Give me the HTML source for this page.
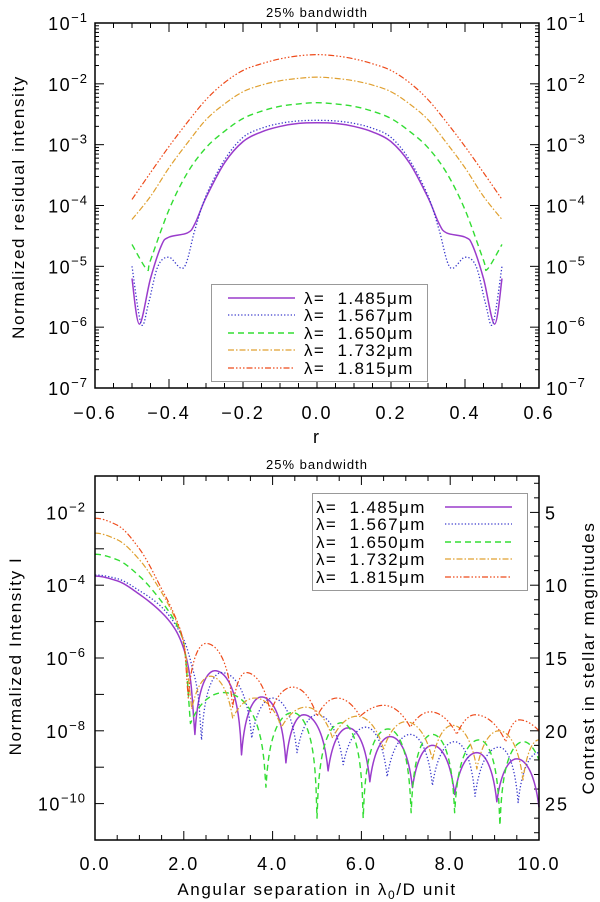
<!DOCTYPE html>
<html><head><meta charset="utf-8">
<style>
html,body{margin:0;padding:0;background:#fff;}
svg{display:block;font-family:"Liberation Sans",sans-serif;}
text{white-space:pre;}
</style></head>
<body>
<svg id="svg" width="600" height="902" viewBox="0 0 600 902" xmlns="http://www.w3.org/2000/svg">
<g id="top"></g>
<g id="bot"></g>
</svg>
<script>
// ---------- TOP CHART DATA (half profile, mirrored about r=0; values are log10 intensity) ----------
const topNames = ["λ=  1.485μm","λ=  1.567μm","λ=  1.650μm","λ=  1.732μm","λ=  1.815μm"];
const topR_purple = [0,0.05,0.1,0.15,0.2,0.25,0.3,0.33,0.35,0.4,0.42,0.45,0.48,0.5];
const topV_purple = [-2.64,-2.65,-2.7,-2.79,-2.95,-3.3,-3.87,-4.3,-4.45,-4.52,-4.65,-5.2,-5.95,-5.2];
const topR_blue = [0,0.05,0.1,0.15,0.2,0.25,0.3,0.33,0.36,0.4,0.43,0.455,0.475,0.5];
const topV_blue = [-2.6,-2.61,-2.65,-2.73,-2.88,-3.25,-3.84,-4.4,-5.02,-4.85,-5.0,-5.6,-5.95,-5.0];
const topR_green = [0,0.05,0.1,0.15,0.2,0.25,0.3,0.35,0.4,0.45,0.46,0.5];
const topV_green = [-2.31,-2.33,-2.37,-2.45,-2.57,-2.78,-3.05,-3.46,-4.07,-4.9,-5.05,-4.64];
const topR_orange = [0,0.05,0.1,0.15,0.2,0.25,0.3,0.35,0.4,0.45,0.5];
const topV_orange = [-1.89,-1.91,-1.95,-2.02,-2.13,-2.33,-2.59,-2.97,-3.38,-3.85,-4.23];
const topR_red = [0,0.05,0.1,0.15,0.2,0.25,0.3,0.35,0.4,0.45,0.5];
const topV_red = [-1.52,-1.54,-1.59,-1.67,-1.78,-1.98,-2.26,-2.63,-3.03,-3.46,-3.9];
const topXTicks = ["−0.6","−0.4","−0.2","0.0","0.2","0.4","0.6"];
const topYTicks = ["−1","−2","−3","−4","−5","−6","−7"];

// ---------- BOTTOM CHART DATA (log10 intensity) ----------
const botMainX_purple = [0,0.5,1.0,1.5,1.8,2.0,2.15,2.25];
const botMainV_purple = [-3.75,-3.88,-4.25,-4.75,-5.2,-5.75,-6.6,-8.1];
const botMainX_blue = [0,0.5,1.0,1.5,2.0,2.2,2.32,2.4];
const botMainV_blue = [-3.72,-3.82,-4.15,-4.6,-5.5,-6.3,-7.0,-8.25];
const botMainX_green = [0,0.5,1.0,1.5,1.8,2.0,2.15];
const botMainV_green = [-3.15,-3.3,-3.75,-4.45,-5.0,-5.6,-7.8];
const botMainX_orange = [0,0.5,1.0,1.5,1.8,2.0,2.18];
const botMainV_orange = [-2.57,-2.75,-3.3,-4.2,-4.9,-5.6,-7.4];
const botMainX_red = [0,0.5,1.0,1.5,1.8,2.0,2.1];
const botMainV_red = [-2.16,-2.35,-3.0,-4.1,-4.85,-5.6,-7.1];

const botLobeX_purple = [2.25,2.7,3.3,3.75,4.3,4.7,5.25,5.7,6.19,6.65,7.15,7.6,8.1,8.6,9.05,9.5,10.0];
const botLobeV_purple = [-8.1,-6.35,-8.66,-7.07,-8.88,-7.56,-9.1,-7.92,-9.4,-8.16,-9.56,-8.4,-9.75,-8.6,-9.95,-8.77,-10.1];
const botLobeX_blue = [2.4,2.85,3.53,4.0,4.55,5.0,5.59,6.1,6.58,7.1,7.6,8.1,8.56,9.1,9.53,10.0];
const botLobeV_blue = [-8.25,-6.4,-8.2,-7.1,-8.6,-7.56,-8.93,-7.9,-9.26,-8.1,-9.5,-8.3,-9.8,-8.45,-9.97,-8.6];
const botLobeX_green = [2.15,2.9,3.85,4.45,5.0,5.55,6.04,6.6,7.12,7.6,8.1,8.65,9.12,9.65,10.0];
const botLobeV_green = [-7.8,-6.95,-9.55,-7.5,-10.4,-7.78,-10.4,-7.95,-10.25,-8.1,-10.25,-8.25,-10.6,-8.3,-8.8];
const botLobeX_orange = [2.18,2.6,3.1,3.6,4.2,4.75,5.35,5.9,6.5,7.0,7.6,8.05,8.6,9.1,9.64,10.0];
const botLobeV_orange = [-7.4,-6.5,-7.65,-7.1,-7.9,-7.35,-8.2,-7.6,-8.5,-7.75,-8.8,-7.85,-9.05,-8.0,-9.35,-8.25];
const botLobeX_red = [2.1,2.5,3.1,3.4,3.95,4.45,5.0,5.45,5.97,6.5,7.1,7.55,8.15,8.56,9.25,9.55,10.0];
const botLobeV_red = [-7.1,-5.6,-7.35,-6.4,-7.5,-6.8,-7.6,-7.1,-7.6,-7.3,-7.9,-7.48,-8.1,-7.56,-8.3,-7.7,-8.0];
const botXTicks = ["0.0","2.0","4.0","6.0","8.0","10.0"];
const botYTicks = ["−2","−4","−6","−8","−10"];
const botMagTicks = ["5","10","15","20","25"];

// ---------- rendering ----------
const NS="http://www.w3.org/2000/svg";
const styles=[
 {c:"#9a3ccc",w:1.5,d:""},
 {c:"#3b3bcc",w:1.3,d:"1.3,2"},
 {c:"#33dd33",w:1.4,d:"6,4"},
 {c:"#e0a030",w:1.2,d:"6,2,1.5,2"},
 {c:"#ee4a1a",w:1.2,d:"6,2,1.5,2,1.5,2,1.5,2"}
];
function mk(parent,tag,attrs,text){
  const e=document.createElementNS(NS,tag);
  for(const k in attrs) e.setAttribute(k,attrs[k]);
  if(text!==undefined) e.textContent=text;
  parent.appendChild(e); return e;
}
function catmull(pts){
  let d="M"+pts[0][0].toFixed(2)+","+pts[0][1].toFixed(2);
  for(let i=0;i<pts.length-1;i++){
    const p0=pts[Math.max(0,i-1)],p1=pts[i],p2=pts[i+1],p3=pts[Math.min(pts.length-1,i+2)];
    const c1=[p1[0]+(p2[0]-p0[0])/6,p1[1]+(p2[1]-p0[1])/6];
    const c2=[p2[0]-(p3[0]-p1[0])/6,p2[1]-(p3[1]-p1[1])/6];
    d+="C"+c1[0].toFixed(2)+","+c1[1].toFixed(2)+" "+c2[0].toFixed(2)+","+c2[1].toFixed(2)+" "+p2[0].toFixed(2)+","+p2[1].toFixed(2);
  }
  return d;
}
function monotone(xs,ys,sx,sy){
  const n=xs.length, dl=[], m=[];
  for(let i=0;i<n-1;i++) dl.push((ys[i+1]-ys[i])/(xs[i+1]-xs[i]));
  m[0]=0;
  for(let i=1;i<n-1;i++) m[i]=(dl[i-1]*dl[i]<=0)?0:(2/(1/dl[i-1]+1/dl[i]));
  m[n-1]=dl[n-2];
  let d="M"+sx(xs[0]).toFixed(2)+","+sy(ys[0]).toFixed(2);
  for(let i=0;i<n-1;i++){
    const h=xs[i+1]-xs[i];
    for(let j=1;j<=12;j++){
      const t=j/12,t2=t*t,t3=t2*t;
      const v=(2*t3-3*t2+1)*ys[i]+(t3-2*t2+t)*h*m[i]+(-2*t3+3*t2)*ys[i+1]+(t3-t2)*h*m[i+1];
      d+="L"+sx(xs[i]+h*t).toFixed(2)+","+sy(v).toFixed(2);
    }
  }
  return d;
}
function logLabel(g,x,y,exp,anchor){
  const t=mk(g,"text",{x:x,y:y,"font-size":"18","letter-spacing":"1.5","text-anchor":anchor,fill:"#000"});
  
  
  mk(t,"tspan",{},"10");
  mk(t,"tspan",{dy:"-8","font-size":"13","letter-spacing":"1"},exp);
}

// ===== TOP =====
(function(){
  const g=document.getElementById("top");
  const L=95,R=539,T=23,B=388;
  const sx=r=>L+(r+0.6)/1.2*(R-L);
  const sy=v=>T+(-1-v)/6*(B-T);
  mk(g,"text",{x:317,y:17,"font-size":"13","letter-spacing":"1","text-anchor":"middle"},"25% bandwidth");
  const tk=mk(g,"g",{stroke:"#000","stroke-width":"1"});
  
  
  for(let i=0;i<=24;i++){
    const r=-0.6+i*0.05, x=sx(r), len=(i%4===0)?9:5;
    mk(tk,"line",{x1:x,y1:B,x2:x,y2:B-len});
    mk(tk,"line",{x1:x,y1:T,x2:x,y2:T+len});
  }
  for(let dec=-7;dec<=-1;dec++){
    const y=sy(dec);
    mk(tk,"line",{x1:L,y1:y,x2:L+9,y2:y}); mk(tk,"line",{x1:R,y1:y,x2:R-9,y2:y});
    if(dec<-1) for(let m=2;m<=9;m++){
      const yy=sy(dec+Math.log10(m));
      mk(tk,"line",{x1:L,y1:yy,x2:L+4,y2:yy}); mk(tk,"line",{x1:R,y1:yy,x2:R-4,y2:yy});
    }
  }
  topXTicks.forEach((s,i)=>{
    const t=mk(g,"text",{x:sx(-0.6+i*0.2),y:419,"font-size":"18","letter-spacing":"2","text-anchor":"middle"},s);
    
  });
  topYTicks.forEach((s,i)=>{
    const y=sy(-1-i)+7;
    logLabel(g,88,y,s,"end");
    logLabel(g,546,y,s,"start");
  });
  const yt=mk(g,"text",{x:0,y:0,"font-size":"17","letter-spacing":"1.6","text-anchor":"middle",transform:"translate(24,207) rotate(-90)"},"Normalized residual intensity");
  
  mk(g,"text",{x:316,y:443,"font-size":"18","text-anchor":"middle"},"r");
  const data=[[topR_purple,topV_purple],[topR_blue,topV_blue],[topR_green,topV_green],[topR_orange,topV_orange],[topR_red,topV_red]];
  const sg=mk(g,"g",{fill:"none"});
  data.forEach((dv,k)=>{
    const pts=[];
    for(let i=dv[0].length-1;i>0;i--) pts.push([sx(-dv[0][i]),sy(dv[1][i])]);
    for(let i=0;i<dv[0].length;i++) pts.push([sx(dv[0][i]),sy(dv[1][i])]);
    const p=mk(sg,"path",{d:catmull(pts),stroke:styles[k].c,"stroke-width":styles[k].w,"stroke-dasharray":styles[k].d});
    
    
  });
  mk(g,"rect",{x:L,y:T,width:R-L,height:B-T,fill:"none",stroke:"#000","stroke-width":"1.5"});
  const lg=mk(g,"g",{});
  
  
  mk(lg,"rect",{x:211.5,y:284.5,width:216,height:97,fill:"#fff",stroke:"#999","stroke-width":"1"});
  const rows=[298,315,333,350,368];
  topNames.forEach((n,k)=>{
    const l=mk(lg,"line",{x1:228,y1:rows[k],x2:295,y2:rows[k],stroke:styles[k].c,"stroke-width":styles[k].w,"stroke-dasharray":styles[k].d});
    
    const t=mk(lg,"text",{x:304,y:rows[k]+6,"font-size":"17","letter-spacing":"1.4"},n);
    
  });
})();

// ===== BOTTOM =====
(function(){
  const g=document.getElementById("bot");
  const L=95,R=539,T=476,B=840;
  const sx=x=>L+x/10*(R-L);
  const sy=v=>T+(-1-v)/10*(B-T);
  mk(g,"text",{x:317,y:469,"font-size":"13","letter-spacing":"1","text-anchor":"middle"},"25% bandwidth");
  const tk=mk(g,"g",{stroke:"#000","stroke-width":"1"});
  
  
  for(let i=0;i<=20;i++){
    const x=sx(i*0.5),len=(i%4===0)?9:5;
    mk(tk,"line",{x1:x,y1:B,x2:x,y2:B-len}); mk(tk,"line",{x1:x,y1:T,x2:x,y2:T+len});
  }
  for(let dec=-11;dec<=-1;dec++){ const y=sy(dec); mk(tk,"line",{x1:L,y1:y,x2:L+9,y2:y}); }
  for(let m=3;m<=27;m++){
    const y=sy(-m/2.5), len=(m%5===0)?9:5;
    mk(tk,"line",{x1:R,y1:y,x2:R-len,y2:y});
  }
  botXTicks.forEach((s,i)=>{
    const t=mk(g,"text",{x:sx(i*2),y:870,"font-size":"18","letter-spacing":"2","text-anchor":"middle"},s);
    
  });
  botYTicks.forEach((s,i)=>{ logLabel(g,86,sy(-2-2*i)+7,s,"end"); });
  botMagTicks.forEach((s,i)=>{
    const t=mk(g,"text",{x:545,y:sy(-(5+5*i)/2.5)+7,"font-size":"18","letter-spacing":"2"},s);
    
  });
  mk(g,"text",{x:0,y:0,"font-size":"17","letter-spacing":"1.6","text-anchor":"middle",transform:"translate(21,656) rotate(-90)"},"Normalized Intensity I");
  mk(g,"text",{x:0,y:0,"font-size":"17","letter-spacing":"1.6","text-anchor":"middle",transform:"translate(594,658) rotate(-90)"},"Contrast in stellar magnitudes");
  const xt=mk(g,"text",{x:317,y:895,"font-size":"17","letter-spacing":"1.6","text-anchor":"middle"});
  
  mk(xt,"tspan",{},"Angular separation in λ");
  mk(xt,"tspan",{dy:"4","font-size":"12"},"0");
  mk(xt,"tspan",{dy:"-4"},"/D unit");

  const mains=[[botMainX_purple,botMainV_purple],[botMainX_blue,botMainV_blue],[botMainX_green,botMainV_green],[botMainX_orange,botMainV_orange],[botMainX_red,botMainV_red]];
  const lobes=[[botLobeX_purple,botLobeV_purple],[botLobeX_blue,botLobeV_blue],[botLobeX_green,botLobeV_green],[botLobeX_orange,botLobeV_orange],[botLobeX_red,botLobeV_red]];
  const sg=mk(g,"g",{fill:"none"});
  mains.forEach((m,k)=>{
    let d=monotone(m[0],m[1],sx,sy);
    const lx=lobes[k][0],lv=lobes[k][1];
    for(let i=0;i<lx.length-1;i++){
      const Aa=Math.pow(10,lv[i]/2),Ab=Math.pow(10,lv[i+1]/2);
      const N=24;
      for(let j=1;j<=N;j++){
        const t=j/N;
        const f=lv[i]<lv[i+1]?Math.sin(Math.PI*t/2):1-Math.cos(Math.PI*t/2);
        const A=Aa+(Ab-Aa)*f;
        const x=lx[i]+(lx[i+1]-lx[i])*t;
        d+="L"+sx(x).toFixed(2)+","+sy(2*Math.log10(A)).toFixed(2);
      }
    }
    const p=mk(sg,"path",{d:d,stroke:styles[k].c,"stroke-width":styles[k].w,"stroke-dasharray":styles[k].d,"stroke-linejoin":"round"});
    
    
  });
  mk(g,"rect",{x:L,y:T,width:R-L,height:B-T,fill:"none",stroke:"#000","stroke-width":"1.5"});
  const lg=mk(g,"g",{});
  
  
  mk(lg,"rect",{x:312.5,y:493.5,width:215,height:97,fill:"#fff",stroke:"#999","stroke-width":"1"});
  const rows=[507,524,542,559,577];
  topNames.forEach((n,k)=>{
    const t=mk(lg,"text",{x:316,y:rows[k]+6,"font-size":"17","letter-spacing":"1.4"},n);
    
    const l=mk(lg,"line",{x1:445,y1:rows[k],x2:512,y2:rows[k],stroke:styles[k].c,"stroke-width":styles[k].w,"stroke-dasharray":styles[k].d});
    
  });
})();
</script>
</body></html>
